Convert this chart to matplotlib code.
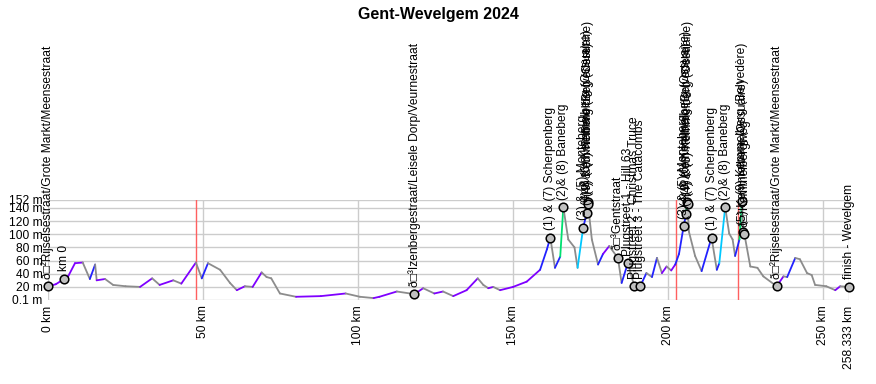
import numpy as np
import matplotlib
matplotlib.use("Agg")
import matplotlib.pyplot as plt
from matplotlib.collections import LineCollection

plt.rcParams['font.family'] = ['Liberation Sans', 'DejaVu Sans']

# ---------------- data ----------------
title = "Gent-Wevelgem 2024"

profile_km = [0, 2.5, 5.2, 6.5, 8.7, 11.2, 13.5, 15.2, 15.7, 18.4, 21, 25, 29.7, 33.6, 36,
              40.4, 43, 47.7, 49.6, 51.6, 55.5, 58.7, 60.9, 63.5, 66, 68.9, 70.5, 72, 74.8,
              80, 88, 96, 100.6, 105, 106.9, 112.5, 118.2, 121, 124.6, 127.4, 130.7, 135,
              138.6, 140.4, 142, 143.6, 145.8, 150, 154.4, 158.7, 160.9, 162, 163.5, 165.2,
              166.2, 167.8, 169.8, 170.8, 172.6, 173.8, 174.0, 174.15, 175.4, 177.4, 179,
              181, 183.8, 185, 187, 189.1, 191.0, 193, 194.8, 196.4, 198, 199.5, 201, 202.3,
              203.5, 205, 205.8, 206.1, 206.25, 206.7, 208.7, 210.8, 214, 215.7, 216.5,
              218.4, 219.7, 220.8, 221.6, 223, 223.8, 224.3, 224.6, 226.5, 228.8, 230.7,
              235, 237.2, 238.4, 241, 242.5, 244.8, 246.3, 247.4, 251, 253.9, 255.5, 258.333]
profile_m = [21, 24, 32, 36, 56, 57, 32, 54, 30, 32, 23, 21, 20, 33, 23,
             30, 25, 57, 33, 56, 46, 26, 15, 21, 20, 42, 35, 33, 10,
             5, 6, 10, 5, 3, 5, 13, 9, 18, 10, 13, 6, 15,
             33, 23, 18, 20, 15, 20, 28, 46, 77, 95, 49, 66,
             141, 92, 80, 49, 110, 133, 149, 146, 92, 54, 70,
             82, 64, 26, 56, 21, 21, 41, 35, 64, 41, 51, 45, 54,
             70, 112, 131, 149, 146, 104, 67, 44, 95, 46, 56,
             141, 101, 92, 67, 92, 150, 103, 100, 51, 49, 36,
             21, 36, 35, 64, 62, 41, 38, 23, 21, 15, 21, 20]

poi_km = [0, 5.2, 118.2, 162, 166.2, 172.6, 173.8, 174.0, 174.15, 183.8, 187, 189.1, 191.0,
          205, 205.8, 206.1, 206.25, 214, 218.4, 223.8, 224.3, 224.6, 235, 258.333]
poi_labels = ["ð□²Rijselsestraat/Grote Markt/Meensestraat", "km 0",
              "ð□³Izenbergestraat/Leisele Dorp/Veurnestraat",
              "(1) & (7) Scherpenberg", "(2)& (8) Baneberg",
              "(3) & (5) Monteberg", "(4) & (6) Kemmelberg (Ossuaire)",
              "(9) Kemmelberg (Belvedère)", "(4) & (6) Kemmelberg (Ossuaire)",
              "ð□³Gentstraat", "Plugstreet 1 - Hill 63",
              "Plugstreet 2 - Christmas Truce", "Plugstreet 3 - The Catacombs",
              "(3) & (5) Monteberg", "(4) & (6) Kemmelberg (Ossuaire)",
              "(9) Kemmelberg (Belvedère)", "(4) & (6) Kemmelberg (Ossuaire)",
              "(1) & (7) Scherpenberg", "(2)& (8) Baneberg",
              "(9) Kemmelberg (Belvedère)", "(5) Kemmelberg (Ossuaire)",
              "ð□³Kemmelbergweg",
              "ð□²Rijselsestraat/Grote Markt/Meensestraat", "finish - Wevelgem"]

red_lines_km = [47.7, 202.6, 222.6]

x_ticks = [0, 50, 100, 150, 200, 250, 258.333]
x_ticklabels = ["0 km", "50 km", "100 km", "150 km", "200 km", "250 km", "258.333 km"]
y_ticks = [0.1, 20, 40, 60, 80, 100, 120, 140, 152]
y_ticklabels = ["0.1 m", "20 m", "40 m", "60 m", "80 m", "100 m", "120 m", "140 m", "152 m"]

# ---------------- figure ----------------
W, H = 876, 384
fig = plt.figure(figsize=(W / 100, H / 100), dpi=100)
ax = fig.add_axes([48 / W, (H - 300) / H, (849 - 48) / W, 100 / H])

ax.set_xlim(0, 258.333)
ax.set_ylim(0.1, 152)

for s in ax.spines.values():
    s.set_visible(False)

for xt in x_ticks:
    ax.axvline(xt, color='#cccccc', lw=1, zorder=0)
for yt in y_ticks:
    ax.axhline(yt, color='#cccccc', lw=1, zorder=0)
for xr in red_lines_km:
    ax.axvline(xr, color='#ff6060', lw=1, zorder=1)

fs = 8.64
ax.set_xticks(x_ticks)
ax.set_xticklabels(x_ticklabels, rotation=90, fontsize=fs)
ax.set_yticks(y_ticks)
ax.set_yticklabels(y_ticklabels, fontsize=fs)
ax.tick_params(length=0, pad=4)

# profile colored by gradient
km = np.array(profile_km)
el = np.array(profile_m)
pts = np.column_stack([km, el])
segs = np.stack([pts[:-1], pts[1:]], axis=1)
grad = np.diff(el) / (np.diff(km) * 1000) * 100


def gcolor(g):
    if g < 0:
        return '#8c8c8c'
    if g < 1:
        return '#7f00ff'
    if g < 3:
        return '#2222ff'
    if g < 5:
        return '#00c8ff'
    if g < 8:
        return '#00e070'
    if g < 11:
        return '#ffd000'
    return '#ff2000'


colors = [gcolor(g) for g in grad]
lc = LineCollection(segs, colors=colors, linewidths=1.3, zorder=3, capstyle='round')
ax.add_collection(lc)

# points of interest
poi_m = np.interp(poi_km, km, el)
ax.plot(poi_km, poi_m, 'o', ms=6.2, mfc='#c0c0c0', mec='black', mew=1.1, zorder=5,
        clip_on=False)
for k, m, lab in zip(poi_km, poi_m, poi_labels):
    ax.annotate(lab, xy=(k, m), xytext=(0, 5.5), textcoords='offset points',
                rotation=90, ha='center', va='bottom', fontsize=fs, color='black',
                annotation_clip=False, zorder=6)

fig.text(0.5, 1 - 14 / H, title, ha='center', va='center', fontsize=11.5,
         fontweight='bold')

fig.savefig('out.png', dpi=100)
